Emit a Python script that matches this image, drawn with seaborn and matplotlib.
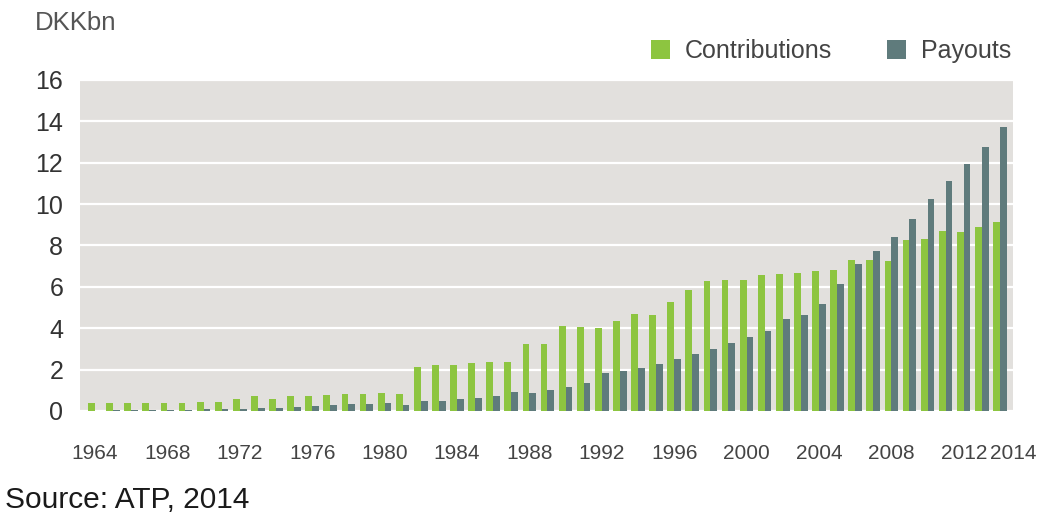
import matplotlib
matplotlib.use("Agg")
import matplotlib.pyplot as plt
import seaborn as sns
import pandas as pd

# ATP annual contributions and payouts, DKK billion
years = list(range(1964, 2015))
contributions = [0.40, 0.40, 0.38, 0.40, 0.40, 0.40, 0.42, 0.42, 0.60, 0.72,
                 0.56, 0.72, 0.74, 0.77, 0.82, 0.82, 0.85, 0.80, 2.13, 2.20,
                 2.23, 2.30, 2.35, 2.38, 3.26, 3.23, 4.10, 4.05, 4.03, 4.35,
                 4.70, 4.66, 5.27, 5.83, 6.28, 6.31, 6.31, 6.55, 6.60, 6.67,
                 6.76, 6.80, 7.28, 7.31, 7.23, 8.27, 8.32, 8.69, 8.63, 8.88,
                 9.12]
payouts = [0.02, 0.03, 0.04, 0.05, 0.06, 0.07, 0.08, 0.09, 0.11, 0.15,
           0.15, 0.20, 0.24, 0.27, 0.32, 0.35, 0.38, 0.30, 0.48, 0.48,
           0.58, 0.64, 0.74, 0.93, 0.88, 1.01, 1.17, 1.33, 1.86, 1.93,
           2.10, 2.26, 2.50, 2.75, 3.02, 3.29, 3.58, 3.89, 4.47, 4.66,
           5.19, 6.12, 7.12, 7.74, 8.43, 9.28, 10.23, 11.13, 11.94, 12.77,
           13.73]
series_names = ["Contributions", "Payouts"]
y_ticks = [0, 2, 4, 6, 8, 10, 12, 14, 16]
x_tick_years = [1964, 1968, 1972, 1976, 1980, 1984, 1988, 1992, 1996,
                2000, 2004, 2008, 2012]
last_tick_label = "2014"

df = pd.DataFrame({
    "year": [str(y) for y in years] * 2,
    "series": [series_names[0]] * len(years) + [series_names[1]] * len(years),
    "value": contributions + payouts,
})

GREEN = "#8dc540"
SLATE = "#5f7b7c"
BG = "#e2e0dd"
FONT = ["Liberation Sans", "DejaVu Sans"]

sns.set_theme(style="white")
plt.rcParams["font.family"] = FONT

fig = plt.figure(figsize=(10.59, 5.19), dpi=100)
ax = fig.add_axes([0.0755, 0.2081, 0.881, 0.6378])
ax.set_facecolor(BG)

sns.barplot(data=df, x="year", y="value", hue="series",
            hue_order=series_names, palette=[GREEN, SLATE],
            width=0.75, saturation=1, ax=ax, zorder=3, linewidth=0)

x_left, x_right = -0.83, len(years) - 1 + 0.72
pos = [years.index(y) for y in x_tick_years] + [x_right]
ax.set_xticks(pos)
ax.set_xticklabels([str(y) for y in x_tick_years] + [last_tick_label],
                   fontsize=15, color="#444444")
ax.set_xlim(x_left, x_right)

ax.set_ylim(0, 16)
ax.set_yticks(y_ticks)
ax.set_yticklabels([str(v) for v in y_ticks], fontsize=18, color="#333333")
ax.yaxis.grid(True, color="white", linewidth=1.6, zorder=1)
ax.xaxis.grid(False)
ax.set_axisbelow(True)

ax.tick_params(axis="x", length=0, pad=24)
ax.tick_params(axis="y", length=0, pad=12)
ax.set_xlabel("")
ax.set_ylabel("")
for s in ax.spines.values():
    s.set_visible(False)

handles, labels = ax.get_legend_handles_labels()
ax.legend(handles, labels, loc="lower right", bbox_to_anchor=(1.0086, 1.02),
          ncol=2, frameon=False, fontsize=18, handlelength=0.75,
          handleheight=0.75, handletextpad=0.6, columnspacing=2.2,
          borderaxespad=0, labelcolor="#444444")

fig.text(35 / 1059, 1 - 23 / 519, "DKKbn", fontsize=18.5, color="#555555",
         va="center", ha="left")
fig.text(5 / 1059, 1 - 500 / 519, "Source: ATP, 2014", fontsize=21.5,
         color="#1a1a1a", va="center", ha="left")

fig.savefig("out.png", dpi=100)
